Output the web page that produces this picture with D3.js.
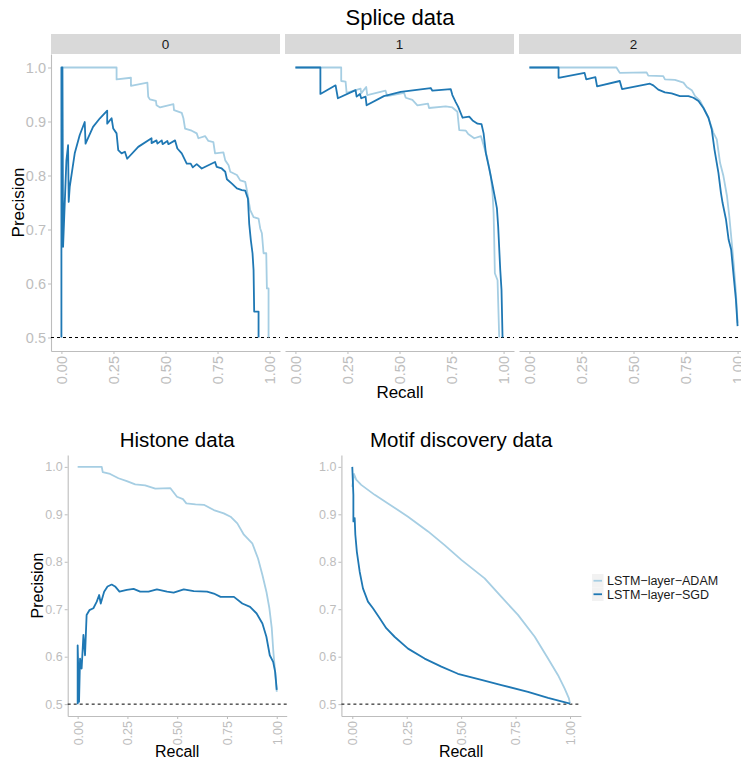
<!DOCTYPE html>
<html>
<head>
<meta charset="utf-8">
<script src="https://cdn.jsdelivr.net/npm/d3@7/dist/d3.min.js"></script>
<style>
  body { margin: 0; background: #fff; }
  text { font-family: "Liberation Sans", Arial, sans-serif; }
</style>
</head>
<body>
<div id="chart"></div>
<script>
// ---- data: [recall, precision] ----
var seriesNames = ["LSTM\u2212layer\u2212ADAM", "LSTM\u2212layer\u2212SGD"];
var seriesColors = ["#a6cee3", "#1f78b4"];
var spliceFacets = ["0", "1", "2"];
var recallTicks = [0, 0.25, 0.5, 0.75, 1];
var precisionTicks = [0.5, 0.6, 0.7, 0.8, 0.9, 1.0];
var baseline = 0.5;

var spliceAdam0 = [[0.005,1.0],[0.265,1.0],[0.265,0.978],[0.334,0.981],[0.334,0.966],[0.413,0.972],
  [0.417,0.946],[0.425,0.941],[0.454,0.938],[0.457,0.930],[0.474,0.926],[0.538,0.932],[0.541,0.921],
  [0.578,0.916],[0.586,0.906],[0.594,0.887],[0.626,0.883],[0.650,0.878],[0.658,0.869],[0.690,0.873],
  [0.706,0.864],[0.730,0.862],[0.738,0.841],[0.778,0.843],[0.787,0.828],[0.803,0.819],[0.811,0.807],
  [0.843,0.801],[0.859,0.791],[0.883,0.788],[0.891,0.773],[0.907,0.736],[0.923,0.723],[0.947,0.720],
  [0.955,0.702],[0.963,0.693],[0.971,0.656],[0.984,0.656],[0.987,0.591],[0.995,0.591],[0.995,0.5]];
var spliceSgd0 = [[0,0.5],[0,1.0],[0.005,1.0],[0.008,0.668],[0.024,0.828],[0.032,0.856],[0.035,0.751],
  [0.040,0.779],[0.064,0.841],[0.088,0.875],[0.112,0.899],[0.116,0.859],[0.152,0.890],[0.185,0.906],
  [0.220,0.920],[0.220,0.896],[0.241,0.906],[0.249,0.887],[0.265,0.878],[0.273,0.847],[0.289,0.841],
  [0.305,0.844],[0.316,0.831],[0.369,0.853],[0.433,0.869],[0.433,0.860],[0.457,0.865],[0.461,0.859],
  [0.482,0.865],[0.486,0.858],[0.509,0.864],[0.514,0.858],[0.546,0.865],[0.557,0.850],[0.578,0.841],
  [0.602,0.822],[0.621,0.822],[0.631,0.815],[0.650,0.821],[0.674,0.813],[0.738,0.825],[0.746,0.816],
  [0.770,0.813],[0.787,0.807],[0.795,0.793],[0.819,0.785],[0.843,0.776],[0.867,0.773],[0.883,0.772],
  [0.896,0.757],[0.902,0.711],[0.910,0.680],[0.918,0.656],[0.923,0.625],[0.926,0.548],[0.947,0.548],
  [0.947,0.5]];

var spliceAdam1 = [[0,1.0],[0.220,1.0],[0.220,0.975],[0.241,0.974],[0.246,0.953],[0.313,0.961],
  [0.316,0.952],[0.340,0.964],[0.345,0.949],[0.433,0.957],[0.441,0.947],[0.522,0.953],[0.530,0.944],
  [0.562,0.940],[0.586,0.930],[0.637,0.933],[0.642,0.925],[0.722,0.928],[0.754,0.926],[0.778,0.918],
  [0.787,0.884],[0.819,0.883],[0.830,0.877],[0.859,0.869],[0.891,0.873],[0.904,0.856],[0.920,0.835],
  [0.939,0.798],[0.947,0.767],[0.952,0.730],[0.955,0.680],[0.958,0.619],[0.971,0.606],[0.979,0.5]];
var spliceSgd1 = [[0,1.0],[0.120,1.0],[0.120,0.951],[0.193,0.967],[0.204,0.943],[0.289,0.958],
  [0.294,0.946],[0.310,0.951],[0.316,0.943],[0.337,0.946],[0.342,0.930],[0.425,0.947],[0.506,0.955],
  [0.650,0.962],[0.658,0.957],[0.746,0.960],[0.754,0.949],[0.770,0.936],[0.782,0.927],[0.803,0.907],
  [0.835,0.909],[0.851,0.902],[0.875,0.896],[0.894,0.895],[0.904,0.878],[0.915,0.841],[0.931,0.813],
  [0.947,0.782],[0.958,0.760],[0.968,0.739],[0.974,0.705],[0.984,0.625],[0.990,0.588],[0.995,0.5]];

var spliceAdam2 = [[0,1.0],[0.418,1.0],[0.434,0.990],[0.563,0.991],[0.571,0.985],[0.643,0.984],
  [0.651,0.978],[0.699,0.977],[0.740,0.972],[0.756,0.964],[0.780,0.958],[0.796,0.947],[0.820,0.938],
  [0.841,0.922],[0.860,0.907],[0.884,0.879],[0.900,0.867],[0.916,0.823],[0.932,0.799],[0.949,0.762],
  [0.960,0.725],[0.969,0.688],[0.981,0.638],[0.992,0.583],[1.0,0.527]];
var spliceSgd2 = [[0,1.0],[0.140,1.0],[0.140,0.981],[0.265,0.990],[0.273,0.978],[0.317,0.982],
  [0.325,0.965],[0.434,0.975],[0.445,0.960],[0.579,0.970],[0.595,0.967],[0.619,0.959],[0.651,0.954],
  [0.683,0.952],[0.723,0.947],[0.764,0.947],[0.788,0.944],[0.812,0.938],[0.836,0.925],[0.860,0.907],
  [0.876,0.885],[0.889,0.848],[0.900,0.823],[0.908,0.805],[0.920,0.768],[0.928,0.749],[0.944,0.719],
  [0.957,0.681],[0.969,0.663],[0.981,0.614],[0.992,0.570],[1.0,0.521]];

var histoneAdam = [[0,1.0],[0.121,1.0],[0.126,0.989],[0.163,0.985],[0.205,0.976],[0.247,0.970],
  [0.289,0.963],[0.339,0.961],[0.390,0.954],[0.466,0.955],[0.499,0.937],[0.529,0.932],[0.546,0.923],
  [0.592,0.921],[0.634,0.920],[0.684,0.909],[0.734,0.902],[0.768,0.895],[0.802,0.881],[0.835,0.857],
  [0.877,0.839],[0.906,0.807],[0.928,0.772],[0.948,0.737],[0.963,0.702],[0.975,0.660],[0.983,0.610],
  [0.992,0.568],[1.0,0.526]];
var histoneSgd = [[0,0.5],[0,0.624],[0.007,0.505],[0.012,0.596],[0.020,0.575],[0.029,0.646],
  [0.037,0.603],[0.045,0.688],[0.059,0.698],[0.079,0.702],[0.096,0.716],[0.108,0.730],[0.116,0.712],
  [0.133,0.737],[0.150,0.748],[0.171,0.752],[0.188,0.748],[0.210,0.737],[0.247,0.741],[0.281,0.743],
  [0.314,0.737],[0.356,0.737],[0.398,0.742],[0.449,0.737],[0.482,0.735],[0.533,0.742],[0.583,0.738],
  [0.650,0.737],[0.684,0.733],[0.718,0.726],[0.785,0.726],[0.827,0.712],[0.866,0.705],[0.899,0.691],
  [0.928,0.670],[0.948,0.642],[0.965,0.603],[0.982,0.589],[0.992,0.568],[1.0,0.530]];

var motifAdam = [[0,0.958],[0.008,0.985],[0.018,0.973],[0.041,0.962],[0.103,0.941],[0.164,0.923],
  [0.256,0.895],[0.348,0.864],[0.424,0.835],[0.501,0.804],[0.608,0.765],[0.685,0.726],[0.761,0.688],
  [0.838,0.642],[0.899,0.596],[0.945,0.561],[0.975,0.533],[0.995,0.512],[1.0,0.501]];
var motifSgd = [[0,1.0],[0.005,0.941],[0.005,0.885],[0.011,0.892],[0.014,0.857],[0.021,0.821],
  [0.034,0.779],[0.049,0.744],[0.072,0.716],[0.095,0.702],[0.126,0.681],[0.156,0.660],[0.194,0.642],
  [0.256,0.617],[0.332,0.596],[0.409,0.579],[0.485,0.564],[0.593,0.551],[0.685,0.540],[0.807,0.526],
  [0.899,0.513],[1.0,0.501]];

var W = 741, H = 764;
var tickGray = "#bdbdbd";

var svg = d3.select("#chart").append("svg")
  .attr("width", W).attr("height", H);

function drawPanel(p) {
  var x = d3.scaleLinear().domain([-0.05, 1.05]).range([p.x0, p.x1]);
  var y = d3.scaleLinear().domain([0.475, 1.025]).range([p.y1, p.y0]);
  var g = svg.append("g");

  // x axis
  var xa = g.append("g")
    .attr("transform", "translate(0," + p.y1 + ")")
    .call(d3.axisBottom(x).tickValues(recallTicks).tickFormat(d3.format(".2f"))
      .tickSize(3).tickSizeOuter(0));
  xa.select(".domain").attr("stroke", tickGray).attr("stroke-width", 1.1);
  xa.selectAll(".tick line").attr("stroke", tickGray);
  xa.selectAll(".tick text")
    .attr("transform", "rotate(-90)")
    .attr("text-anchor", "end")
    .attr("x", -p.xLabGap).attr("y", 0).attr("dy", "0.35em")
    .attr("fill", tickGray).style("font-size", p.tickFont + "px")
    .style("font-family", "Liberation Sans, Arial, sans-serif");

  if (p.yAxis) {
    var ya = g.append("g")
      .attr("transform", "translate(" + p.x0 + ",0)")
      .call(d3.axisLeft(y).tickValues(precisionTicks).tickFormat(d3.format(".1f"))
        .tickSize(3).tickSizeOuter(0));
    ya.select(".domain").attr("stroke", tickGray).attr("stroke-width", 1.1);
    ya.selectAll(".tick line").attr("stroke", tickGray);
    ya.selectAll(".tick text")
      .attr("x", -p.yLabGap)
      .attr("fill", tickGray).style("font-size", p.tickFont + "px")
      .style("font-family", "Liberation Sans, Arial, sans-serif");
  }

  // reference line
  g.append("line")
    .attr("x1", p.x0).attr("x2", p.x1)
    .attr("y1", y(baseline)).attr("y2", y(baseline))
    .attr("stroke", "#000").attr("stroke-width", 1)
    .attr("stroke-dasharray", "3,3");

  var line = d3.line()
    .x(function(d) { return x(d[0]); })
    .y(function(d) { return y(d[1]); });

  p.curves.forEach(function(c, i) {
    g.append("path")
      .datum(c)
      .attr("fill", "none")
      .attr("stroke", seriesColors[i])
      .attr("stroke-width", 1.8)
      .attr("stroke-linejoin", "round")
      .attr("d", line);
  });
  return g;
}

// ---- Splice data (facets) ----
var topY0 = 54, topY1 = 351, panelW = 229, gap = 5, firstX = 51;
var spliceCurves = [[spliceAdam0, spliceSgd0], [spliceAdam1, spliceSgd1], [spliceAdam2, spliceSgd2]];

spliceFacets.forEach(function(f, i) {
  var x0 = firstX + i * (panelW + gap);
  svg.append("rect")
    .attr("x", x0).attr("y", 34).attr("width", panelW).attr("height", 20)
    .attr("fill", "#d9d9d9");
  svg.append("text")
    .attr("x", x0 + panelW / 2).attr("y", 49)
    .attr("text-anchor", "middle")
    .attr("fill", "#1a1a1a")
    .style("font-size", "13.5px")
    .text(f);
  drawPanel({x0: x0, x1: x0 + panelW, y0: topY0, y1: topY1, curves: spliceCurves[i],
    yAxis: i === 0, tickFont: 14.5, xLabGap: 5, yLabGap: 5});
});

svg.append("text")
  .attr("x", 400).attr("y", 25)
  .attr("text-anchor", "middle").attr("fill", "#000")
  .style("font-size", "22px")
  .text("Splice data");

svg.append("text")
  .attr("transform", "translate(24," + (topY0 + topY1) / 2 + ") rotate(-90)")
  .attr("text-anchor", "middle").attr("fill", "#000")
  .style("font-size", "17px")
  .text("Precision");

svg.append("text")
  .attr("x", 400).attr("y", 398)
  .attr("text-anchor", "middle").attr("fill", "#000")
  .style("font-size", "17px")
  .text("Recall");

// ---- bottom plots ----
var botY0 = 455, botY1 = 716;
var bottoms = [
  {title: "Histone data", x0: 67.7, x1: 286.7, curves: [histoneAdam, histoneSgd], yTitle: true},
  {title: "Motif discovery data", x0: 341.4, x1: 580.9, curves: [motifAdam, motifSgd], yTitle: false}
];

bottoms.forEach(function(b) {
  drawPanel({x0: b.x0, x1: b.x1, y0: botY0, y1: botY1, curves: b.curves,
    yAxis: true, tickFont: 12.5, xLabGap: 5, yLabGap: 5});
  var cx = (b.x0 + b.x1) / 2;
  svg.append("text")
    .attr("x", cx).attr("y", 447)
    .attr("text-anchor", "middle").attr("fill", "#000")
    .style("font-size", "20.5px")
    .text(b.title);
  svg.append("text")
    .attr("x", cx).attr("y", 757)
    .attr("text-anchor", "middle").attr("fill", "#000")
    .style("font-size", "16px")
    .text("Recall");
  if (b.yTitle) {
    svg.append("text")
      .attr("transform", "translate(43," + (botY0 + botY1) / 2 + ") rotate(-90)")
      .attr("text-anchor", "middle").attr("fill", "#000")
      .style("font-size", "16px")
      .text("Precision");
  }
});

// ---- legend ----
var legend = svg.append("g").attr("transform", "translate(592,574)");
seriesNames.forEach(function(name, i) {
  var row = legend.append("g").attr("transform", "translate(0," + i * 13.5 + ")");
  row.append("rect")
    .attr("width", 11.5).attr("height", 13.5)
    .attr("fill", "#f2f2f2");
  row.append("line")
    .attr("x1", 1.5).attr("x2", 10).attr("y1", 6.75).attr("y2", 6.75)
    .attr("stroke", seriesColors[i]).attr("stroke-width", 1.8);
  row.append("text")
    .attr("x", 15).attr("y", 6.75).attr("dy", "0.35em")
    .attr("fill", "#1a1a1a")
    .style("font-size", "12.5px")
    .text(name);
});
</script>
</body>
</html>
